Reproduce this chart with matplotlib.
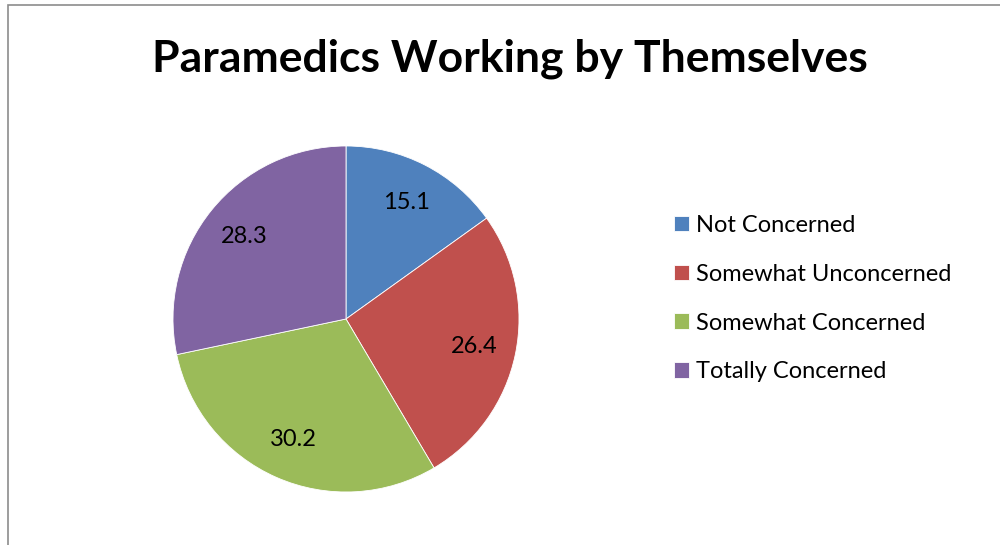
import numpy as np
import matplotlib.pyplot as plt
from matplotlib.patches import Rectangle

categories = ['Not Concerned', 'Somewhat Unconcerned', 'Somewhat Concerned', 'Totally Concerned']
values = [15.1, 26.4, 30.2, 28.3]
colors = ['#4F81BD', '#C0504D', '#9BBB59', '#8064A2']

plt.rcParams['font.family'] = ['Lato', 'DejaVu Sans']

fig = plt.figure(figsize=(10, 5.45), dpi=100)

# chart border (only top and left show in the crop)
fig.add_artist(Rectangle((0.008, -0.1), 1.1, 1.0908, transform=fig.transFigure,
                         fill=False, edgecolor='#8c8c8c', linewidth=1.2))

ax = fig.add_axes([0.173, 0.0972, 0.346, 0.635])
wedges, texts = ax.pie(values, colors=colors, startangle=90, counterclock=False,
                       wedgeprops=dict(edgecolor='white', linewidth=0.6))
for w, v in zip(wedges, values):
    ang = np.deg2rad((w.theta1 + w.theta2) / 2)
    ax.text(0.76 * np.cos(ang), 0.76 * np.sin(ang), f'{v:.1f}',
            ha='center', va='center', fontsize=17)
ax.set_xlim(-1, 1)
ax.set_ylim(-1, 1)
ax.set_aspect('equal')

fig.text(0.51, 0.892, 'Paramedics Working by Themselves', ha='center', va='center',
         fontsize=32, fontweight='bold')

fig.legend(wedges, categories, loc='center left', bbox_to_anchor=(0.674, 0.452),
           frameon=False, fontsize=17, handlelength=0.64, handleheight=0.64,
           handletextpad=0.3, labelspacing=1.18, borderpad=0, borderaxespad=0)

fig.savefig('out.png', dpi=100)
